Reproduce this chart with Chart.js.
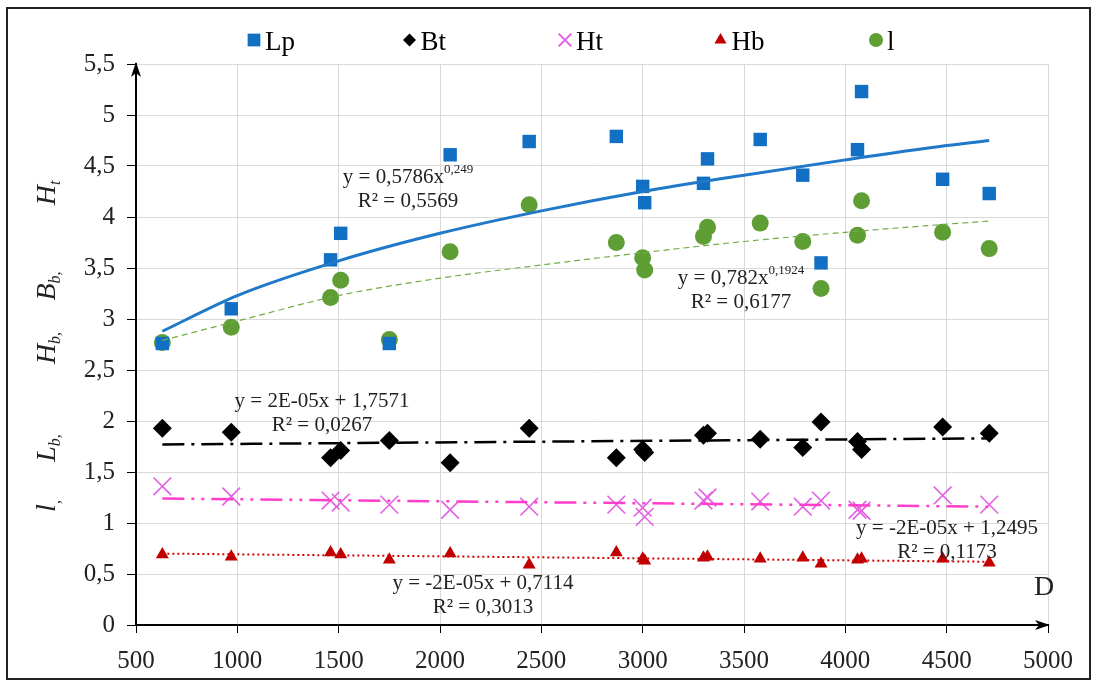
<!DOCTYPE html>
<html>
<head>
<meta charset="utf-8">
<script src="https://cdn.jsdelivr.net/npm/chart.js@4.4.1/dist/chart.umd.min.js"></script>
<style>
  html, body { margin: 0; padding: 0; background: #fff; }
  #wrap { position: relative; width: 1096px; height: 682px; }
</style>
</head>
<body>
<div id="wrap"><canvas id="chart" width="1096" height="682"></canvas></div>
<script>
// D values (shared by every series)
const dValues = [630, 970, 1460, 1510, 1750, 2050, 2440, 2870, 3000, 3010, 3300, 3320, 3580, 3790, 3880, 4060, 4080, 4480, 4710];

const lpValues = [2.76, 3.10, 3.58, 3.84, 2.76, 4.61, 4.74, 4.79, 4.30, 4.14, 4.33, 4.57, 4.76, 4.41, 3.55, 4.66, 5.23, 4.37, 4.23];
const btValues = [1.93, 1.89, 1.64, 1.71, 1.81, 1.59, 1.93, 1.64, 1.72, 1.69, 1.86, 1.88, 1.82, 1.74, 1.99, 1.80, 1.72, 1.94, 1.88];
const htValues = [1.36, 1.26, 1.22, 1.20, 1.18, 1.13, 1.16, 1.18, 1.15, 1.06, 1.22, 1.25, 1.21, 1.16, 1.22, 1.13, 1.12, 1.27, 1.18];
const hbValues = [0.69, 0.67, 0.71, 0.69, 0.64, 0.70, 0.59, 0.71, 0.65, 0.63, 0.66, 0.67, 0.65, 0.66, 0.60, 0.64, 0.65, 0.65, 0.61];
const lValues  = [2.77, 2.92, 3.21, 3.38, 2.80, 3.66, 4.12, 3.75, 3.60, 3.48, 3.81, 3.90, 3.94, 3.76, 3.30, 3.82, 4.16, 3.85, 3.69];

// trendlines
const curveTrendD = [630, 1000, 1500, 2000, 2500, 3000, 3500, 4000, 4500, 4710];
const lpTrend = [2.88, 3.23, 3.57, 3.84, 4.06, 4.25, 4.41, 4.56, 4.70, 4.75];
const lTrend  = [2.79, 2.98, 3.23, 3.40, 3.53, 3.65, 3.76, 3.85, 3.93, 3.96];
const lineTrendD = [630, 4710];
const btTrend = [1.77, 1.83];
const htTrend = [1.24, 1.16];
const hbTrend = [0.70, 0.62];

const seriesNames = ["Lp", "Bt", "Ht", "Hb", "l"];
const xTicks = [500, 1000, 1500, 2000, 2500, 3000, 3500, 4000, 4500, 5000];
const yTicks = [0, 0.5, 1, 1.5, 2, 2.5, 3, 3.5, 4, 4.5, 5, 5.5];

const equations = [
  { main: "y = 0,5786x", sup: "0,249", r2: "R² = 0,5569", x: 408, y: 177 },
  { main: "y = 0,782x", sup: "0,1924", r2: "R² = 0,6177", x: 741, y: 278 },
  { main: "y = 2E-05x + 1,7571", sup: "", r2: "R² = 0,0267", x: 322, y: 401 },
  { main: "y = -2E-05x + 0,7114", sup: "", r2: "R² = 0,3013", x: 483, y: 583 },
  { main: "y = -2E-05x + 1,2495", sup: "", r2: "R² = 0,1173", x: 947, y: 528 }
];

const SERIF = "'Liberation Serif', 'Times New Roman', serif";

function pts(xs, ys) {
  return xs.map((x, i) => ({ x: x, y: ys[i] }));
}

function fmt(v) {
  return String(v).replace(".", ",");
}

const markerSets = [
  { label: "Lp", data: pts(dValues, lpValues), pointStyle: "rect", pointRadius: 9.5, backgroundColor: "#1170c4", borderColor: "#1170c4", borderWidth: 0 },
  { label: "Bt", data: pts(dValues, btValues), pointStyle: "rectRot", pointRadius: 9.5, backgroundColor: "#000", borderColor: "#000", borderWidth: 0 },
  { label: "Ht", data: pts(dValues, htValues), pointStyle: "crossRot", pointRadius: 12.5, backgroundColor: "#e260e2", borderColor: "#e260e2", borderWidth: 1.6 },
  { label: "Hb", data: pts(dValues, hbValues), pointStyle: "triangle", pointRadius: 7.5, backgroundColor: "#c00000", borderColor: "#c00000", borderWidth: 0 },
  { label: "l",  data: pts(dValues, lValues),  pointStyle: "circle", pointRadius: 8.5, backgroundColor: "#5f9e35", borderColor: "#5f9e35", borderWidth: 0 }
];
markerSets.forEach(ds => { ds.order = 5; ds.pointHoverRadius = ds.pointRadius; ds.showLine = false; });

function trend(data, color, width, dash) {
  return {
    label: "trend", data: data, showLine: true, pointRadius: 0, pointHoverRadius: 0,
    borderColor: color, borderWidth: width, borderDash: dash, fill: false, tension: 0.4,
    cubicInterpolationMode: "monotone", order: 1
  };
}

const trendSets = [
  trend(pts(curveTrendD, lpTrend), "#1f78c8", 3, []),
  trend(pts(curveTrendD, lTrend), "#70ad47", 1.2, [6, 4]),
  trend(pts(lineTrendD, btTrend), "#000", 2.5, [22, 7, 3, 7]),
  trend(pts(lineTrendD, htTrend), "#ff3fcc", 2.5, [22, 7, 3, 7, 3, 7]),
  trend(pts(lineTrendD, hbTrend), "#d40000", 2, [2, 3])
];

const framePlugin = {
  id: "frame",
  beforeDraw(chart) {
    const ctx = chart.ctx;
    ctx.save();
    ctx.fillStyle = "#fff";
    ctx.fillRect(0, 0, chart.width, chart.height);
    ctx.restore();
  },
  afterDraw(chart) {
    const ctx = chart.ctx;
    const area = chart.chartArea;
    ctx.save();
    // outer frame
    ctx.strokeStyle = "#222";
    ctx.lineWidth = 2;
    ctx.strokeRect(7, 8, 1083, 671);

    // axis arrows
    ctx.fillStyle = "#000";
    ctx.beginPath();
    ctx.moveTo(area.left, area.top - 2);
    ctx.lineTo(area.left - 5, area.top + 13);
    ctx.lineTo(area.left, area.top + 9);
    ctx.lineTo(area.left + 5, area.top + 13);
    ctx.closePath();
    ctx.fill();
    ctx.beginPath();
    ctx.moveTo(area.right + 2, area.bottom);
    ctx.lineTo(area.right - 13, area.bottom - 5);
    ctx.lineTo(area.right - 9, area.bottom);
    ctx.lineTo(area.right - 13, area.bottom + 5);
    ctx.closePath();
    ctx.fill();

    // legend
    const slot0 = 254, slotW = 155.5, ly = 40;
    markerSets.forEach((ds, i) => {
      const cx = slot0 + i * slotW;
      ctx.fillStyle = ds.backgroundColor;
      ctx.strokeStyle = ds.borderColor;
      const r = { rect: 9, rectRot: 6.5, crossRot: 9, triangle: 7, circle: 7 }[ds.pointStyle];
      Chart.helpers.drawPoint(ctx, { pointStyle: ds.pointStyle, radius: r, rotation: 0, borderWidth: ds.borderWidth }, cx, ly);
      ctx.fillStyle = "#000";
      ctx.font = "27px " + SERIF;
      ctx.textAlign = "left";
      ctx.textBaseline = "alphabetic";
      ctx.fillText(seriesNames[i], cx + 11, 50);
    });

    // trendline equations
    ctx.fillStyle = "#222";
    ctx.textBaseline = "middle";
    equations.forEach(eq => {
      ctx.font = "21px " + SERIF;
      const w1 = ctx.measureText(eq.main).width;
      ctx.font = "13px " + SERIF;
      const w2 = eq.sup ? ctx.measureText(eq.sup).width : 0;
      const start = eq.x - (w1 + w2) / 2;
      ctx.textAlign = "left";
      ctx.font = "21px " + SERIF;
      ctx.fillText(eq.main, start, eq.y);
      if (eq.sup) {
        ctx.font = "13px " + SERIF;
        ctx.fillText(eq.sup, start + w1, eq.y - 7);
      }
      ctx.font = "21px " + SERIF;
      ctx.textAlign = "center";
      ctx.fillText(eq.r2, eq.x, eq.y + 24);
    });

    // axis name D
    ctx.font = "28px " + SERIF;
    ctx.textAlign = "center";
    ctx.fillStyle = "#222";
    ctx.fillText("D", 1044, 588);

    // rotated y title: l, Lb, Hb, Bb, Ht
    const parts = [
      { t: "l", s: "", c: ",", y: 506 },
      { t: "L", s: "b", c: ",", y: 448 },
      { t: "H", s: "b", c: ",", y: 348 },
      { t: "B", s: "b", c: ",", y: 286 },
      { t: "H", s: "t", c: "", y: 193 }
    ];
    parts.forEach(p => {
      ctx.save();
      ctx.translate(46, p.y);
      ctx.rotate(-Math.PI / 2);
      ctx.font = "italic 28px " + SERIF;
      const wm = ctx.measureText(p.t).width;
      ctx.font = "italic 16px " + SERIF;
      const ws = ctx.measureText(p.s + p.c).width;
      let x0 = -(wm + ws) / 2;
      ctx.textAlign = "left";
      ctx.textBaseline = "alphabetic";
      ctx.font = "italic 28px " + SERIF;
      ctx.fillText(p.t, x0, 9);
      ctx.font = "italic 16px " + SERIF;
      ctx.fillText(p.s + p.c, x0 + wm, 14);
      ctx.restore();
    });
    ctx.restore();
  }
};

new Chart(document.getElementById("chart"), {
  type: "scatter",
  data: { datasets: markerSets.concat(trendSets) },
  options: {
    responsive: false,
    animation: false,
    events: [],
    layout: { padding: { top: 64, right: 48, left: 0, bottom: 0 } },
    plugins: { legend: { display: false }, tooltip: { enabled: false } },
    scales: {
      x: {
        type: "linear", min: 500, max: 5000,
        afterFit(scale) { scale.height = 57; },
        afterBuildTicks(scale) { scale.ticks = xTicks.map(v => ({ value: v })); },
        border: { display: true, color: "#000", width: 2 },
        grid: { color: "#d9d9d9", lineWidth: 1, tickColor: "#000", tickLength: 8, drawTicks: true },
        ticks: { autoSkip: false, maxRotation: 0, padding: 13, color: "#222", font: { family: SERIF, size: 25 }, callback: v => String(v) }
      },
      y: {
        type: "linear", min: 0, max: 5.5,
        afterFit(scale) { scale.width = 136; },
        afterBuildTicks(scale) { scale.ticks = yTicks.map(v => ({ value: v })); },
        border: { display: true, color: "#000", width: 2 },
        grid: { color: "#d9d9d9", lineWidth: 1, tickColor: "#000", tickLength: 9, drawTicks: true },
        ticks: { padding: 12, color: "#222", font: { family: SERIF, size: 25 }, callback: v => fmt(v) }
      }
    }
  },
  plugins: [framePlugin]
});
</script>
</body>
</html>
